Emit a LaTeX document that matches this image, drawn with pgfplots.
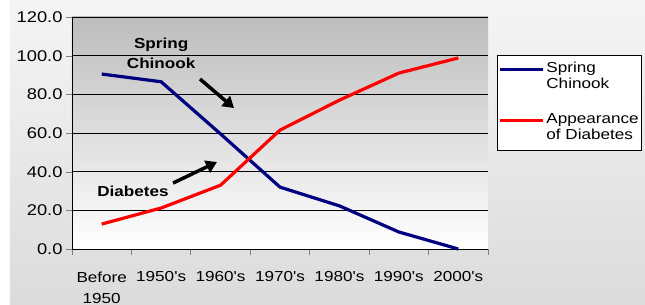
\documentclass[border=0pt]{standalone}
\usepackage{pgfplots}
\pgfplotsset{compat=1.18}
\usepackage{fontspec}
\setmainfont{Liberation Sans}[FakeStretch=1.18, Ligatures=TeXOff]
\usetikzlibrary{arrows.meta}
\definecolor{navyline}{HTML}{000080}
\definecolor{redline}{HTML}{FF0000}
\newcommand{\lf}{\fontsize{14.5}{16}\selectfont}
\begin{document}
\begin{tikzpicture}
\path[use as bounding box] (-72pt,-56pt) rectangle (573pt,249pt);
\shade[top color=white!96!black, bottom color=white!86!black] (-62pt,-56pt) rectangle (573pt,249pt);
\begin{axis}[
  at={(0pt,0pt)}, anchor=south west,
  scale only axis, width=416pt, height=232pt,
  xmin=-0.5, xmax=6.5, ymin=0, ymax=120,
  axis x line*=bottom, axis y line*=left,
  axis line style={line width=0.8pt},
  axis background/.style={shade, top color=white!74!black, bottom color=white},
  xtick={0,...,6},
  xticklabels={{Before\\1950},1950's,1960's,1970's,1980's,1990's,2000's},
  xticklabel style={align=center, yshift=-13pt, font=\fontsize{14.5}{21}\selectfont},
  major x tick style={draw=none},
  minor xtick={-0.5,0.5,...,6.5},
  minor x tick style={line width=0.8pt},
  minor tick length=6pt,
  ytick={0,20,...,120},
  yticklabel style={/pgf/number format/fixed, /pgf/number format/fixed zerofill, /pgf/number format/precision=1, font=\fontsize{15.5}{16}\selectfont},
  /pgf/number format/assume math mode=true,
  tick align=outside, major tick length=6pt,
  ymajorgrids, grid style={black, line width=0.7pt},
  legend style={at={(1.0216,0.836)}, anchor=north west, draw=black, fill=white, inner xsep=1pt, inner ysep=4pt, row sep=15pt, cells={anchor=base west}, nodes={text depth=}},
  legend image code/.code={\path (0pt,0.33em) -- (6pt,0.33em); \draw[#1] (6pt,0.33em) -- (43pt,0.33em);},
  clip=false,
]
\addplot[navyline, line width=3.2pt, line join=round] coordinates {(0,90.5) (1,86.5) (2,59.5) (3,32) (4,22.3) (5,8.8) (6,0)};
\addlegendentry{\lf\begin{tabular}[t]{@{}l@{}}Spring\\Chinook\end{tabular}}
\addplot[redline, line width=3.2pt, line join=round] coordinates {(0,12.9) (1,21.2) (2,33) (3,61.5) (4,77) (5,91) (6,98.8)};
\addlegendentry{\lf\begin{tabular}[t]{@{}l@{}}Appearance\\of Diabetes\end{tabular}}
\node[font=\bfseries\fontsize{14.5}{20}\selectfont, align=center] at (axis cs:1.0,101) {Spring\\Chinook};
\draw[line width=3.5pt, -{Triangle[length=11pt,width=13pt]}] (axis cs:1.654,87.9) -- (axis cs:2.226,72.9);
\node[font=\bfseries\fontsize{14.5}{18}\selectfont] at (axis cs:0.526,30) {Diabetes};
\draw[line width=3.5pt, -{Triangle[length=11pt,width=13pt]}] (axis cs:1.20,34.1) -- (axis cs:1.94,45);
\end{axis}
\end{tikzpicture}
\end{document}
